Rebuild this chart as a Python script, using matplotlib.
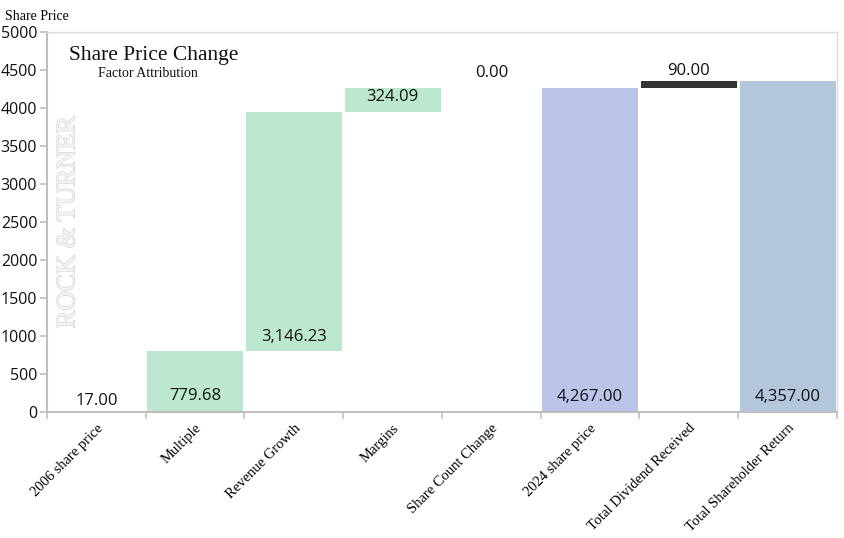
import numpy as np
import matplotlib
matplotlib.use("Agg")
import matplotlib.pyplot as plt
import matplotlib.patheffects as pe

# data
categories = ["2006 share price", "Multiple", "Revenue Growth", "Margins",
              "Share Count Change", "2024 share price", "Total Dividend Received",
              "Total Shareholder Return"]
values = [17.00, 779.68, 3146.23, 324.09, 0.00, 4267.00, 90.00, 4357.00]
kinds = ["total", "delta", "delta", "delta", "delta", "total", "delta", "total"]
y_ticks = [0, 500, 1000, 1500, 2000, 2500, 3000, 3500, 4000, 4500, 5000]

colors = {"start": "#bcc3e8", "delta": "#bde8d0", "mid": "#bcc3e8",
          "div": "#333333", "end": "#b4c6dc"}
bar_colors = [colors["start"], colors["delta"], colors["delta"], colors["delta"],
              colors["delta"], colors["mid"], colors["div"], colors["end"]]

SERIF = "Liberation Serif"
SANS = "Open Sans"

# waterfall bottoms
bottoms = []
running = 0.0
for v, k in zip(values, kinds):
    if k == "total":
        bottoms.append(0.0)
        running = v
    else:
        bottoms.append(running)
        running += v

fig = plt.figure(figsize=(8.45, 5.38), dpi=100)
ax = fig.add_axes((47 / 845, 1 - 412 / 538, 790 / 845, 380 / 538))

x = np.arange(len(categories))
ax.bar(x, values, bottom=bottoms, width=0.97, color=bar_colors, linewidth=0)

# labels sit at the bar base, small bars get them on top
for xi, v, b in zip(x, values, bottoms):
    if v < 100:
        base, off = b + v, 1
        if v == 0:
            off = 4.5
    else:
        base, off = b, 5
    ax.annotate(f"{v:,.2f}", (xi, base), xytext=(0, off), textcoords="offset points",
                ha="center", va="bottom", fontsize=12, family=SANS, color="#111111")

ax.set_xlim(-0.5, len(categories) - 0.5)
ax.set_ylim(0, 5000)
ax.set_yticks(y_ticks)
ax.set_yticklabels([str(t) for t in y_ticks], family=SANS, fontsize=11.5, color="#111111")

# x ticks at category boundaries, labels at centres
ax.set_xticks(np.arange(len(categories) + 1) - 0.5)
ax.set_xticklabels([])
ax.set_xticks(x, minor=True)
ax.set_xticklabels(categories, minor=True, rotation=45, ha="right",
                   rotation_mode="anchor", family=SERIF, fontsize=10.5)
ax.tick_params(axis="x", which="minor", length=0, pad=7)
ax.tick_params(axis="x", which="major", length=5, color="#bfbfbf", width=1.2)
ax.tick_params(axis="y", length=5, color="#bfbfbf", width=1.2, pad=2)

for side in ["left", "bottom"]:
    ax.spines[side].set_color("#bfbfbf")
    ax.spines[side].set_linewidth(1.5)
for side in ["top", "right"]:
    ax.spines[side].set_color("#d9d9d9")
    ax.spines[side].set_linewidth(1.0)

# titles and watermark
fig.text(5 / 845, 1 - 16 / 538, "Share Price", family=SERIF, fontsize=10, va="center")
ax.text(0.028, 0.938, "Share Price Change", transform=ax.transAxes, family=SERIF,
        fontsize=15.5, va="center", color="#111111")
ax.text(0.064, 0.89, "Factor Attribution", transform=ax.transAxes, family=SERIF,
        fontsize=10, va="center", color="#111111")
ax.text(0.027, 0.5, "ROCK & TURNER", transform=ax.transAxes, family=SERIF,
        fontsize=19, rotation=90, ha="center", va="center", color="#f4f4f4",
        path_effects=[pe.withStroke(linewidth=0.8, foreground="#cfcfcf")])

fig.savefig("out.png", dpi=100)
